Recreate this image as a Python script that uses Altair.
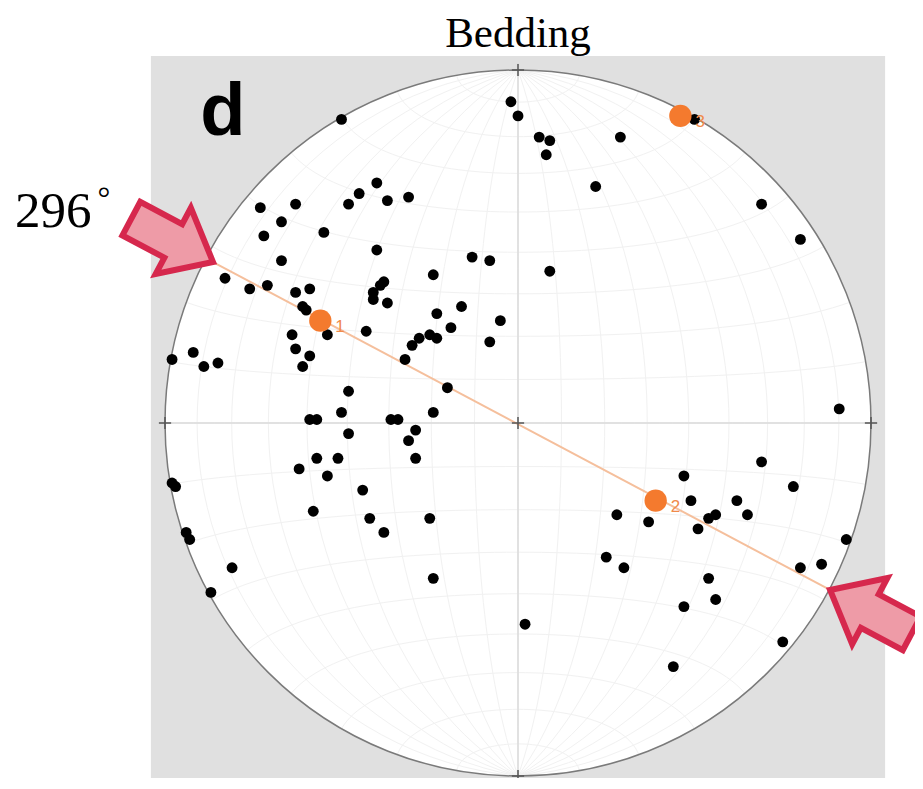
import math
import numpy as np
import pandas as pd
import altair as alt

# ---------------- data (equal-area net coordinates, primitive radius = 100) -------------
pole_x = [-50, -2, 0, 6, 9, 8, 29, 22, 9, 69, 80, 91, 50,
          -40, -45, -48, -37, -31, -73, -63, -67, -55, -72, -40, -13, -8, -67, -24, -83,
          -76, -71, -38, -63, -59, -41, -39, -41, -37, -61, -60, -23, -16, -5, -19, -28,
          -25, -23, -30, -8, -43, -54, -64, -63, -59, -61, -32, -92, -89, -85, -98, -20,
          -48, -50, -24, -59, -57, -36, -34, -29, -48, -31, -57, -51, -29, -62, -54, -44,
          -98, -97, -58, -42, -38, -25, -94, -93, -81, -87, -24, 2,
          69, 47, 78, 62, 49, 28, 37, 54, 56, 65, 51, 93, 25, 30, 80, 86, 54, 56, 47, 75, 44]
pole_y = [86, 91, 87, 81, 80, 76, 81, 67, 43, 62, 52, 4, 86,
          68, 65, 62, 63, 64, 61, 62, 57, 54, 53, 49, 47, 46, 46, 42, 41,
          38, 39, 40, 37, 38, 37, 39, 35, 34, 33, 32, 31, 33, 29, 27, 24,
          25, 24, 22, 23, 26, 25, 25, 21, 19, 16, 18, 20, 16, 17, 18, 10,
          9, 3, 3, 1, 1, 1, 1, -2, -3, -5, -10, -10, -10, -13, -15, -19,
          -17, -18, -25, -27, -31, -27, -31, -33, -41, -48, -44, -57,
          -11, -15, -18, -22, -22, -26, -28, -27, -26, -26, -30, -33, -38, -41, -41, -40,
          -44, -50, -52, -62, -69]

axis_label = ["1", "2", "3"]
axis_x = [-56, 39, 46]
axis_y = [29, -22, 87]

trace_x = [-86.4, 88.4]   # 296° vertical plane trace, end points on the primitive
trace_y = [45.6, -47.3]

title_text = "Bedding"
panel_letter = "d"
strike_text = "296"
degree_text = "°"

assert len(pole_x) == len(pole_y)

# ---------------- layout ----------------
W, H = 907, 770
K = 3.53                     # px per net unit
CXP, CYP = 510, 415          # net centre in chart pixels
XD = [-CXP / K, (W - CXP) / K]
YD = [-(H - CYP) / K, CYP / K]
xs = alt.Scale(domain=XD, nice=False, zero=False)
ys = alt.Scale(domain=YD, nice=False, zero=False)
R_PX = 100 * K


def X(f="x"):
    return alt.X(f"{f}:Q", scale=xs, axis=None)


def Y(f="y"):
    return alt.Y(f"{f}:Q", scale=ys, axis=None)


# background square
bg = alt.Chart(pd.DataFrame({"x": [-104], "x2": [104], "y": [-104], "y2": [104]})).mark_rect(
    color="#e0e0e0", clip=True).encode(x=X(), x2="x2:Q", y=Y(), y2="y2:Q")

# white primitive circle
disk = alt.Chart(pd.DataFrame({"x": [0], "y": [0]})).mark_arc(
    radius=R_PX, theta=0, theta2=2 * math.pi, fill="white", stroke=None).encode(x=X(), y=Y())

# faint Schmidt net (graticule)
rows = []
gid = 0
for lam in range(-80, 90, 10):
    for i, phi in enumerate(np.arange(-90, 90.1, 3)):
        p, l = math.radians(phi), math.radians(lam)
        k = math.sqrt(1 / (1 + math.cos(p) * math.cos(l)))
        rows.append({"x": 100 * k * math.cos(p) * math.sin(l), "y": 100 * k * math.sin(p), "g": gid, "o": i})
    gid += 1
for phi in range(-80, 90, 10):
    for i, lam in enumerate(np.arange(-90, 90.1, 3)):
        p, l = math.radians(phi), math.radians(lam)
        k = math.sqrt(1 / (1 + math.cos(p) * math.cos(l)))
        rows.append({"x": 100 * k * math.cos(p) * math.sin(l), "y": 100 * k * math.sin(p), "g": gid, "o": i})
    gid += 1
net = alt.Chart(pd.DataFrame(rows)).mark_line(color="#f1f1f1", strokeWidth=1).encode(
    x=X(), y=Y(), detail="g:N", order="o:Q")

# crosshair
hline = alt.Chart(pd.DataFrame({"x": [-101.5], "x2": [102], "y": [0]})).mark_rule(
    color="#dadada", strokeWidth=1.5).encode(x=X(), x2="x2:Q", y=Y())
vline = alt.Chart(pd.DataFrame({"x": [0], "y": [-102], "y2": [102]})).mark_rule(
    color="#dadada", strokeWidth=1.5).encode(x=X(), y=Y(), y2="y2:Q")

# primitive outline
rim = alt.Chart(pd.DataFrame({"x": [0], "y": [0]})).mark_arc(
    radius=R_PX, theta=0, theta2=2 * math.pi, fill=None, filled=False,
    stroke="#7a7a7a", strokeWidth=1.5).encode(x=X(), y=Y())

# cross ticks
crosses = alt.Chart(pd.DataFrame({"x": [0, 0, 0, 100, -100], "y": [0, 100, -100, 0, 0]})).mark_point(
    shape="M-1,0H1M0,-1V1", size=150, filled=False, color="#555555", strokeWidth=1.5, opacity=1
).encode(x=X(), y=Y())

# plane trace
trace = alt.Chart(pd.DataFrame({"x": trace_x, "y": trace_y})).mark_line(
    color="#f5bf9c", strokeWidth=2).encode(x=X(), y=Y())

# poles
poles = alt.Chart(pd.DataFrame({"x": pole_x, "y": pole_y})).mark_circle(
    size=118, color="black", opacity=1).encode(x=X(), y=Y())

# principal axes
ax_df = pd.DataFrame({"x": axis_x, "y": axis_y, "t": axis_label})
axes_pts = alt.Chart(ax_df).mark_circle(size=500, color="#f47a2e", opacity=1).encode(x=X(), y=Y())
axes_lbl = alt.Chart(ax_df).mark_text(
    color="#f08a4b", fontSize=17, font="Liberation Sans", dx=15, dy=6, align="left"
).encode(x=X(), y=Y(), text="t:N")

# arrows at trace ends
dxp = (trace_x[1] - trace_x[0]) * K
dyp = -(trace_y[1] - trace_y[0]) * K
ang = math.degrees(math.atan2(dyp, dxp)) % 360
arrow_path = "M0,0L-0.9,-0.75L-0.9,-0.38L-1.85,-0.38L-1.85,0.38L-0.9,0.38L-0.9,0.75Z"
arrows = alt.layer(*[
    alt.Chart(pd.DataFrame({"x": [trace_x[i]], "y": [trace_y[i]]})).mark_point(
        shape=arrow_path, size=10000, filled=True, fill="#ee9ba7", fillOpacity=1,
        stroke="#d6284d", strokeWidth=6, strokeJoin="miter", opacity=1,
        angle=(ang + 180 * i) % 360).encode(x=X(), y=Y())
    for i in range(2)
])

# texts
title = alt.Chart(pd.DataFrame({"x": [0], "y": [106.5], "t": [title_text]})).mark_text(
    font="Liberation Serif", fontSize=43, color="black", align="center", baseline="alphabetic"
).encode(x=X(), y=Y(), text="t:N")
letter = alt.Chart(pd.DataFrame({"x": [-83.6], "y": [81.6], "t": [panel_letter]})).mark_text(
    font="Liberation Sans", fontWeight="bold", fontSize=74, color="black", align="center",
    baseline="alphabetic").encode(x=X(), y=Y(), text="t:N")
strike = alt.Chart(pd.DataFrame({"x": [-142.5], "y": [55.5], "t": [strike_text]})).mark_text(
    font="Liberation Serif", fontSize=51, color="black", align="left", baseline="alphabetic"
).encode(x=X(), y=Y(), text="t:N")
degree = alt.Chart(pd.DataFrame({"x": [-117.3], "y": [60.5], "t": [degree_text]})).mark_text(
    font="Liberation Serif", fontSize=32, color="black", align="center", baseline="alphabetic"
).encode(x=X(), y=Y(), text="t:N")

chart = alt.layer(
    bg, disk, net, hline, vline, rim, trace, poles, axes_pts, axes_lbl, crosses, arrows,
    title, letter, strike, degree
).properties(
    width=W, height=H, padding=0, autosize=alt.AutoSizeParams(type="none")
).configure_view(stroke=None, fill="white")

chart.save("out.html", embed_options={"renderer": "svg", "actions": False})
